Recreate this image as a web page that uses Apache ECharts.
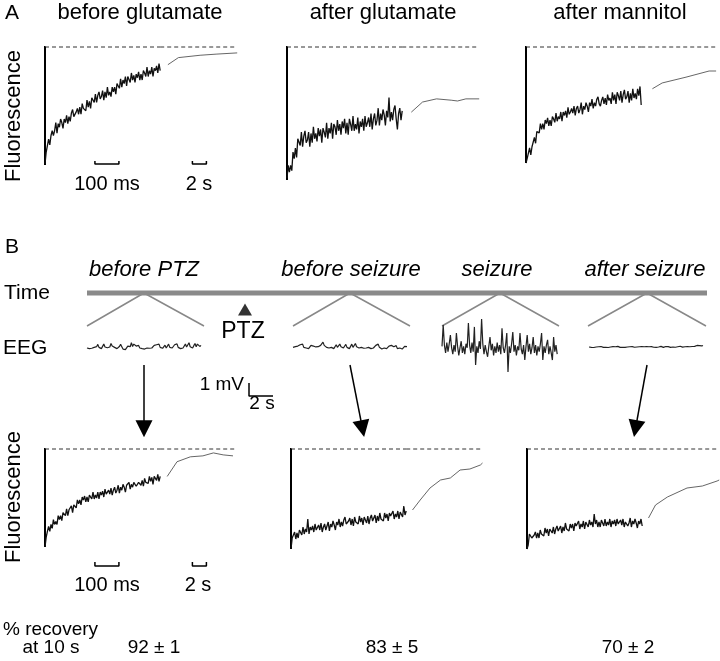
<!DOCTYPE html>
<html><head><meta charset="utf-8">
<script src="https://cdn.jsdelivr.net/npm/echarts@6/dist/echarts.min.js"></script>
<style>html,body{margin:0;padding:0;background:#fff}#c{width:720px;height:661px}</style>
</head><body><div id="c"></div>
<script>
// ---------- DATA ----------
const fastDtMs = 5;      // sample step of the fast (ms) traces
const eegDtS = 0.1;      // sample step of EEG traces (s)
const scaleBarMs = 100;  // fast scale bar
const scaleBarS = 2;     // slow scale bar
const eegScaleMv = 1, eegScaleS = 2;

const panelATitles = ['before glutamate', 'after glutamate', 'after mannitol'];
const panelBTitles = ['before PTZ', 'before seizure', 'seizure', 'after seizure'];
const recoveryText = ['92 ± 1', '83 ± 5', '70 ± 2'];

// fluorescence (% of the drop recovered; 0 = peak drop, 100 = baseline)
const fastA1 = [1,11,11,22,17,25,29,25,29,36,27,35,32,39,36,31,39,36,42,35,41,37,44,47,41,40,45,48,43,49,43,52,48,49,46,55,49,54,48,57,56,53,60,53,59,62,56,58,63,55,62,57,66,59,62,58,66,62,66,60,69,67,65,73,66,72,69,75,67,75,74,70,78,72,76,70,77,74,79,72,77,72,80,78,75,83,75,80,77,83,75,82,80,84,78,86,80];
const slowA1X = [1.1, 2.6, 5.7, 8.1, 11];
const slowA1Y = [85, 91, 93, 94, 95];

const fastA2 = [1.5,11,6,11,7,21,16,24,17,31,30,26,36,25,33,37,28,30,36,25,35,28,40,31,35,29,39,33,38,28,39,36,32,43,31,39,35,43,31,42,40,34,45,37,42,34,44,39,46,35,43,34,46,42,37,48,37,42,38,47,35,44,40,46,37,48,40,43,47,40,50,38,46,50,41,45,54,41,50,45,53,49,41,52,47,62,44,51,45,53,56,46,38,50,54,45,52];
const slowA2X = [1.3, 2.9, 4.9, 7, 7.9, 9.1, 11];
const slowA2Y = [51, 58.6, 61, 60, 59.4, 61, 61];

const fastA3 = [0,4,5,13,7,14,14,22,17,27,28,26,34,29,34,29,37,34,39,32,37,32,40,38,35,43,36,40,38,44,36,44,41,45,39,48,42,44,47,43,49,41,47,49,43,46,52,42,49,46,52,49,44,52,49,55,47,52,49,55,57,51,49,54,57,51,56,50,59,54,56,51,61,54,59,51,61,58,54,62,52,59,63,55,57,62,52,60,54,64,56,60,55,64,58,66,50];
const slowA3X = [1.6, 3, 6.4, 9.7, 10.7];
const slowA3Y = [64, 69, 74, 79.3, 79.3];

const fastB1 = [0,10,16,21,16,23,19,28,23,26,23,32,28,32,27,35,33,32,39,32,38,36,42,35,43,43,40,48,44,48,43,51,48,52,46,51,46,53,51,49,56,49,53,50,56,49,56,53,57,51,59,54,55,58,54,60,53,58,61,55,58,63,55,61,58,64,61,56,63,61,66,59,64,61,66,68,62,61,66,68,63,68,62,70,66,68,65,72,67,71,64,72,71,68,74,67,72];
const slowB1X = [1, 2.4, 4.3, 6.1, 7.6, 9, 10.4];
const slowB1Y = [72, 87, 92, 93, 96, 94, 93];

const fastB2 = [0,11,12,17,10,16,11,19,17,14,22,15,20,17,30,15,22,19,23,17,25,19,21,24,19,26,17,22,25,19,21,27,18,25,22,28,24,19,27,24,30,22,27,23,29,32,25,23,28,31,24,30,23,32,27,29,25,33,27,31,24,32,30,26,33,25,31,34,28,30,34,26,33,28,36,30,32,28,36,31,35,28,36,33,31,38,30,35,32,38,30,37,36,32,43,34,38];
const slowB2X = [0.9, 2, 3.4, 4.9, 6.3, 7.7, 9.1, 10.6, 10.9];
const slowB2Y = [39, 49, 61, 69, 71, 79, 80, 84, 86];

const fastB3 = [0,4,15,17,11,10,14,17,11,16,11,19,15,16,13,21,16,20,13,20,19,16,22,15,20,23,18,19,23,16,22,18,26,20,22,18,25,21,25,18,26,23,21,28,20,25,22,28,20,27,26,22,29,24,27,22,35,25,29,22,27,22,29,26,23,30,23,27,24,30,22,28,25,29,23,30,25,26,29,24,30,22,27,29,23,26,31,22,28,25,30,26,21,28,25,30,23];
const slowB3X = [0.9, 1.9, 3.6, 6.4, 8.6, 10.7, 11];
const slowB3Y = [31, 44, 52, 61, 63, 68, 69];

// EEG (mV)
const eegBeforePTZ = [0.0,0.05,-0.05,0.1,-0.02,0.12,0.05,0.2,0.1,0.28,0.05,0.15,-0.05,0.1,0.3,0.08,0.22,0.02,-0.1,0.08,0.35,0.15,0.25,0.05,0.18,-0.05,0.05,0.12,0.28,0.1,-0.08,0.05,-0.12,0.02,0.15,0.0,0.1,0.4,0.12,0.3,0.45,0.15,0.05,0.2,0.0,0.08,-0.05,0.02,-0.08,0.05,0.0,0.1,-0.02,0.08,0.0,0.12,0.2,0.05,0.25,0.1,0.3,0.05,0.18,-0.02,0.1,0.22,0.0,0.15,0.3,0.05,0.12,0.0,0.08,0.25,0.1,0.32,0.05,0.15,-0.05,0.1,0.0,0.12,0.3,0.08,0.22,0.4,0.1,0.25,0.0,0.18,0.35,0.1,0.3,0.45,0.12,0.2];
const eegBeforeSeizure = [0.05,-0.05,0.1,0.0,0.15,0.05,0.25,0.1,0.3,0.05,0.2,0.0,0.12,-0.05,0.1,0.2,0.05,0.15,0.0,0.08,-0.02,0.1,0.05,0.2,0.3,0.45,0.2,0.1,0.05,0.15,0.0,-0.1,0.05,0.12,-0.05,0.1,0.25,0.05,0.15,0.3,0.1,0.22,0.0,0.1,0.28,0.05,0.18,-0.05,0.1,0.3,0.05,0.2,0.35,0.1,0.25,0.0,0.15,0.05,0.1,-0.02,0.08,0.0,0.12,0.05,0.15,-0.05,0.1,0.0,0.05,0.2,0.1,0.3,0.05,0.12,-0.08,0.05,0.0,0.1,-0.05,0.05,0.15,0.0,0.2,0.3,0.1,0.05,0.18,-0.05,0.08,0.0,0.1,-0.08,0.05,0.12,0.0,0.1];
const eegSeizure = [0.2,1.85,0.3,-0.3,0.5,-0.2,0.4,1.08,0.1,-0.4,0.3,-0.2,1.23,0.2,-0.5,0.1,0.6,-0.3,0.2,-0.4,0.4,0.1,2.0,0.3,-0.3,0.5,-0.2,1.7,-1.23,0.2,-0.3,0.6,0.0,2.3,0.4,-0.4,0.3,-0.2,-0.6,0.2,0.92,-0.1,0.4,-0.5,0.2,-0.3,0.5,-0.2,0.3,-0.4,1.6,0.1,-0.3,0.3,1.23,-1.77,0.2,-0.3,0.4,1.3,-0.2,0.3,-0.5,0.2,-0.1,1.23,0.0,-0.4,0.3,-0.85,0.2,1.08,-0.2,0.4,-0.4,0.1,0.92,-0.3,0.3,-0.5,0.2,-0.2,0.4,1.23,-0.85,0.2,-0.3,0.3,0.7,-0.4,0.2,-0.3,-0.85,0.92,-0.2,0.3,-0.4];
const eegAfterSeizure = [0.0,0.03,-0.03,0.02,-0.04,0.03,0.0,-0.03,0.02,-0.02,0.04,0.0,-0.03,0.02,-0.02,0.03,-0.04,0.02,0.0,-0.03,0.03,-0.02,0.02,0.0,0.05,0.0,-0.03,0.03,-0.02,0.02,-0.03,0.04,0.0,-0.02,0.02,-0.03,0.03,0.0,-0.02,0.05,0.0,-0.03,0.02,-0.02,0.03,-0.03,0.02,0.0,0.04,-0.02,0.02,-0.03,0.03,0.0,-0.02,0.03,-0.03,0.04,0.0,-0.02,0.05,0.0,-0.03,0.02,0.04,-0.02,0.03,0.0,-0.03,0.05,0.0,0.03,-0.02,0.05,0.02,0.0,0.06,0.02,-0.01,0.05,0.02,0.07,0.03,0.06,0.02,0.08,0.04,0.1,0.05,0.08,0.12,0.06,0.1,0.14,0.08,0.12];

// experiment time line (min)
const timeEnd = 62;
const ptzTime = 15.8;
const winStart = [0, 20.6, 35.5, 50.1];
const winCenter = [5.7, 26.3, 41.3, 56];
const winEnd = [11.7, 32.3, 47.2, 61.9];
const arrowFrom = [5.7, 26.3, 56];
const arrowTo = [5.7, 27.55, 54.85];

// ---------- LAYOUT ----------
const grids = [], xAxes = [], yAxes = [], series = [];
function grid(l, t, w, h, x0, x1, y0, y1) {
  const i = grids.length;
  grids.push({left: l, top: t, width: w, height: h, containLabel: false});
  xAxes.push({type: 'value', gridIndex: i, min: x0, max: x1, show: false});
  yAxes.push({type: 'value', gridIndex: i, min: y0, max: y1, show: false});
  return i;
}
function line(g, data, style) {
  series.push({type: 'line', xAxisIndex: g, yAxisIndex: g, data: data, symbol: 'none', showSymbol: false,
    clip: false, silent: true, animation: false, lineStyle: style});
}
const FAST_W = 480 * 0.24, SLOW_W = 77;
function fluoPanel(barX, top, h, fast, sx, sy, bar) {
  const gf = grid(barX, top, FAST_W, h, 0, 480, 0, 100);
  const gs = grid(barX + FAST_W, top, SLOW_W, h, 0, 11, 0, 100);
  line(gf, [[0, 100], [480, 100]], {color: '#333', width: 1, type: [4, 3]});
  line(gs, [[0, 100], [11, 100]], {color: '#333', width: 1, type: [4, 3]});
  line(gf, [[-33, 100], [0, 100], [0, 0]], {color: '#000', width: 2});
  line(gf, fast.map((v, i) => [i * fastDtMs, v]), {color: '#111', width: 1.3});
  line(gs, sx.map((x, i) => [x, sy[i]]), {color: '#555', width: 0.9});
  if (bar) {
    const fx = 208, sxx = 4.6;
    line(gf, [[fx, bar[1]], [fx, bar[0]], [fx + scaleBarMs, bar[0]], [fx + scaleBarMs, bar[1]]], {color: '#000', width: 1.5});
    line(gs, [[sxx, bar[1]], [sxx, bar[0]], [sxx + scaleBarS, bar[0]], [sxx + scaleBarS, bar[1]]], {color: '#000', width: 1.5});
  }
}
fluoPanel(45, 47, 118, fastA1, slowA1X, slowA1Y, [0.85, 3.4]);
fluoPanel(287, 47, 133, fastA2, slowA2X, slowA2Y, null);
fluoPanel(526, 47, 116, fastA3, slowA3X, slowA3Y, null);
fluoPanel(45, 449, 98, fastB1, slowB1X, slowB1Y, [-19.4, -15.3]);
fluoPanel(291, 449, 100, fastB2, slowB2X, slowB2Y, null);
fluoPanel(527, 449, 100, fastB3, slowB3X, slowB3Y, null);

// time line
const gt = grid(87, 293, 620, 33, 0, timeEnd, 0, 1);
for (let k = 0; k < winStart.length; k++) {
  line(gt, [[winStart[k], 0], [winCenter[k], 1], [winEnd[k], 0]], {color: '#888', width: 1.5});
}
line(gt, [[0, 1], [timeEnd, 1]], {color: '#8a8a8a', width: 5});
series.push({type: 'scatter', xAxisIndex: gt, yAxisIndex: gt, data: [[ptzTime, 0.5]], symbol: 'triangle',
  symbolSize: [14, 12], itemStyle: {color: '#000'}, silent: true, animation: false});

// arrows
const ga = grid(87, 365, 620, 72, 0, timeEnd, 0, 1);
series.push({type: 'lines', coordinateSystem: 'cartesian2d', xAxisIndex: ga, yAxisIndex: ga, silent: true, animation: false,
  symbol: ['none', 'triangle'], symbolSize: [13, 17],
  lineStyle: {color: '#000', width: 1.5, opacity: 1, curveness: 0},
  data: arrowFrom.map((f, i) => ({coords: [[f, 1], [arrowTo[i], 0.115]]}))});

// EEG
function eeg(left, base, data) {
  const n = data.length;
  const g = grid(left, base - 32.5, (n - 1) * eegDtS * 12, 65, 0, (n - 1) * eegDtS, -2.5, 2.5);
  line(g, data.map((v, i) => [i * eegDtS, v]), {color: '#222', width: 1.2});
}
eeg(87, 348, eegBeforePTZ);
eeg(293, 348, eegBeforeSeizure);
eeg(442, 349, eegSeizure);
eeg(589, 347, eegAfterSeizure);
const ge = grid(249, 383, 24, 13, 0, eegScaleS, 0, eegScaleMv);
line(ge, [[0, eegScaleMv], [0, 0], [eegScaleS, 0]], {color: '#000', width: 1.5});

// ---------- TEXT ----------
const FONT = '"Liberation Sans", Arial, Helvetica, sans-serif';
function txt(x, y, s, size, o) {
  o = o || {};
  return {type: 'text', x: x, y: y, rotation: o.rot || 0, silent: true,
    style: {text: s, fontSize: size, fontFamily: FONT, fontStyle: o.italic ? 'italic' : 'normal',
      fill: '#000', align: o.align || 'center', verticalAlign: 'middle'}};
}
const texts = [
  txt(12, 13, 'A', 21),
  txt(140, 13, panelATitles[0], 22),
  txt(383, 13, panelATitles[1], 22),
  txt(620, 13, panelATitles[2], 22),
  txt(14, 116, 'Fluorescence', 22, {rot: Math.PI / 2}),
  txt(107, 184, '100 ms', 20),
  txt(199, 184, '2 s', 20),
  txt(12, 247, 'B', 21),
  txt(144, 270, panelBTitles[0], 22, {italic: true}),
  txt(351, 270, panelBTitles[1], 22, {italic: true}),
  txt(497, 270, panelBTitles[2], 22, {italic: true}),
  txt(645, 270, panelBTitles[3], 22, {italic: true}),
  txt(4, 293, 'Time', 21, {align: 'left'}),
  txt(3, 348, 'EEG', 21, {align: 'left'}),
  txt(243, 332, 'PTZ', 23),
  txt(244, 385, '1 mV', 19, {align: 'right'}),
  txt(262, 404, '2 s', 19),
  txt(14, 497, 'Fluorescence', 22, {rot: Math.PI / 2}),
  txt(107, 585, '100 ms', 20),
  txt(198, 585, '2 s', 20),
  txt(3, 630, '% recovery', 19, {align: 'left'}),
  txt(51, 648, 'at 10 s', 19),
  txt(154, 648, recoveryText[0], 19),
  txt(392, 648, recoveryText[1], 19),
  txt(628, 648, recoveryText[2], 19)
];

const chart = echarts.init(document.getElementById('c'), null, {renderer: 'canvas'});
chart.setOption({
  animation: false,
  backgroundColor: '#fff',
  grid: grids, xAxis: xAxes, yAxis: yAxes, series: series,
  graphic: texts
});
</script></body></html>
